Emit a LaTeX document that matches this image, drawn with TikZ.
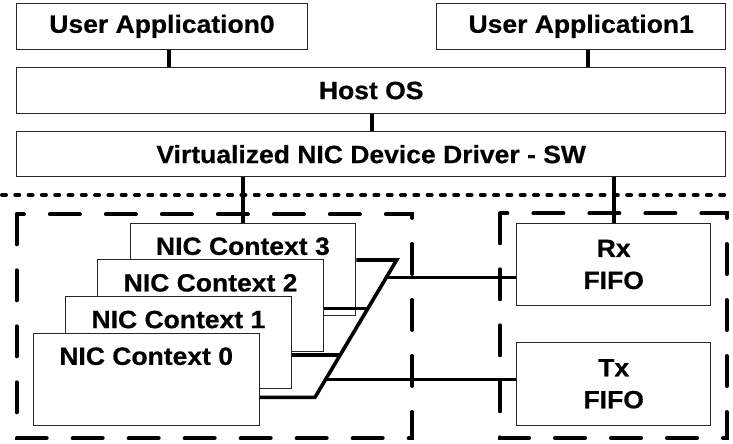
\documentclass[tikz,border=0pt]{standalone}
\usepackage{fontspec}
\newfontfamily\labelfont{Liberation Sans Bold}[FakeStretch=1.06,FakeBold=0.5]
\usetikzlibrary{calc}
\begin{document}
\begin{tikzpicture}[x=1pt,y=-1pt,
  every node/.style={font=\labelfont\fontsize{25}{32}\selectfont, inner sep=0pt},
  swbox/.style={draw=black!85, line width=1pt, fill=white},
  nicbox/.style={swbox, minimum width=225.7pt, text height=31.5pt, text depth=60.2pt},
  fifobox/.style={swbox, minimum width=194pt, minimum height=82.4pt, align=center},
  link/.style={line width=3.6pt},
  group/.style={line width=4pt, line cap=round, dash pattern=on 30pt off 26pt},
  divider/.style={line width=4pt, line cap=round, dash pattern=on 4pt off 9.3pt}]

% canvas
\fill[white] (0,0) rectangle (733,444);
\useasboundingbox (0,0) rectangle (733,444);

% software / hardware boundary and hardware groups
\draw[divider] (2,195) -- (733,195);
\draw[group] (16.7,214.3) rectangle (412.3,438.3);
\draw[group] (500,213.3) rectangle (726.7,438.3);

% software stack
\node[swbox, minimum width=290.6pt, minimum height=46pt] (ua0) at (162,26.3) {User Application0};
\node[swbox, minimum width=289pt, minimum height=46pt] (ua1) at (581.2,26.3) {User Application1};
\node[swbox, minimum width=709pt, minimum height=45.6pt] (host) at (371.2,90.5) {Host OS};
\node[swbox, minimum width=709pt, minimum height=45pt] (drv) at (371.2,154.2) {Virtualized NIC Device Driver - SW};

% stacked NIC contexts, back to front
\node[nicbox] (nic3) at (242.9,269.2) {NIC Context 3};
\node[nicbox] (nic2) at (210.6,305.8) {NIC Context 2};
\node[nicbox] (nic1) at (178.4,342.5) {NIC Context 1};
\node[nicbox] (nic0) at (146.2,379.2) {NIC Context 0};

% FIFOs
\node[fifobox] (rx) at (613.7,264.5) {Rx\\FIFO};
\node[fifobox] (tx) at (613.7,383.8) {Tx\\FIFO};

% vertical links in the software stack
\draw[link] ([xshift=7pt]ua0.south) -- ([xshift=7pt]ua0.south |- host.north);
\draw[link] ([xshift=6.8pt]ua1.south) -- ([xshift=6.8pt]ua1.south |- host.north);
\draw[link] ([xshift=1pt]host.south) -- ([xshift=1pt]host.south |- drv.north);
\draw[link] (drv.south -| nic3.north) -- (nic3.north);
\draw[link] (drv.south -| rx.north) -- (rx.north);

% context multiplexing bus
\coordinate (b3) at (396.7,260);
\coordinate (b0) at (315,397.3);
\draw[link] (nic3.east |- b3) -- (b3) -- (b0) -- (nic0.east |- b0);
\coordinate (j2) at ($(b3)!0.352!(b0)$);
\coordinate (j1) at ($(b3)!0.692!(b0)$);
\coordinate (jr) at ($(b3)!0.126!(b0)$);
\coordinate (jt) at ($(b3)!0.869!(b0)$);
\draw[link] (nic2.east |- j2) -- (j2);
\draw[link] (nic1.east |- j1) -- (j1);
\draw[link] (jr) -- (rx.west |- jr);
\draw[link] (jt) -- (tx.west |- jt);
\end{tikzpicture}
\end{document}
